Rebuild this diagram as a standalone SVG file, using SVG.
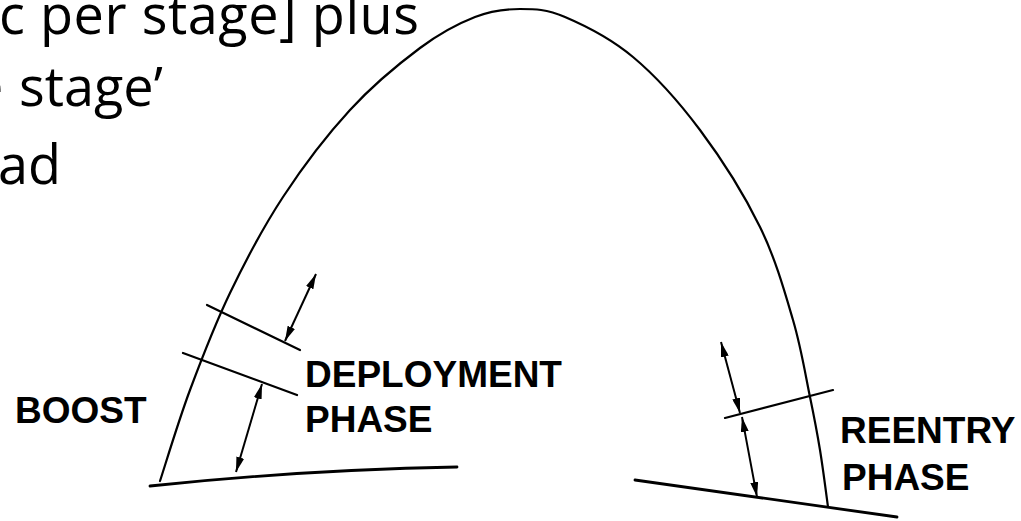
<svg xmlns="http://www.w3.org/2000/svg" width="1021" height="521" viewBox="0 0 1021 521">
<style>
.slide{font-family:"Open Sans","Noto Sans",sans-serif;font-size:54px;fill:#000}
.lbl{font-family:"Liberation Sans",Arial,sans-serif;font-weight:bold;font-size:37px;fill:#000}
.ln{fill:none;stroke:#000;stroke-width:2.2;stroke-linecap:round;stroke-linejoin:round}
.gnd{fill:none;stroke:#000;stroke-width:2.8;stroke-linecap:round}
.dim{fill:none;stroke:#000;stroke-width:2;marker-start:url(#ah);marker-end:url(#ah)}
</style>
<defs>
<marker id="ah" markerUnits="userSpaceOnUse" viewBox="0 0 15 8" markerWidth="15" markerHeight="8" refX="15" refY="4" orient="auto-start-reverse">
<path d="M0,0 L15,4 L0,8 z" fill="#000"/>
</marker>
</defs>
<rect width="1021" height="521" fill="#fff"/>
<g id="slide-text">
<text class="slide" x="-1" y="34" textLength="420" lengthAdjust="spacing">c per stage] plus</text>
<text class="slide" y="106"><tspan x="-27">e</tspan><tspan x="19">stage’</tspan></text>
<text class="slide" x="-2" y="184">ad</text>
</g>
<g id="trajectory">
<path class="ln" d="M160,481 C165,465.8 178.3,421.3 190,390 C201.7,358.7 214.5,325.2 230,293 C245.5,260.8 263,227.5 283,197 C303,166.5 327.2,134.8 350,110 C372.8,85.2 399.2,63.5 420,48 C440.8,32.5 458.3,23.5 475,17 C491.7,10.5 505,9 520,9 C535,9 546.2,9 565,17 C583.8,25 610.5,38.2 633,57 C655.5,75.8 678.8,101.7 700,130 C721.2,158.3 744.5,195.3 760,227 C775.5,258.7 784.7,291.7 793,320 C801.3,348.3 805.5,375.3 810,397 C814.5,418.7 817,431.7 820,450 C823,468.3 826.7,497.5 828,507"/>
</g>
<g id="ground">
<path class="gnd" d="M150,486 Q300,470 457,467"/>
<path class="gnd" d="M635,480 L897,517"/>
</g>
<g id="deployment-marks">
<path class="ln" d="M207,305 L300,350"/>
<path class="ln" d="M183,353 L297,395"/>
</g>
<g id="reentry-marks">
<path class="ln" d="M725,418 L833,390"/>
</g>
<g id="connectors">
<path class="dim" d="M285,341 L316,274"/>
<path class="dim" d="M262,384 L236,472"/>
<path class="dim" d="M740,413 L721,342"/>
<path class="dim" d="M742,417 L757,497"/>
</g>
<g id="label-boost"><text class="lbl" x="15" y="423">BOOST</text></g>
<g id="label-deployment"><text class="lbl" x="305" y="387">DEPLOYMENT</text><text class="lbl" x="305" y="432">PHASE</text></g>
<g id="label-reentry"><text class="lbl" x="840" y="443">REENTRY</text><text class="lbl" x="842" y="490">PHASE</text></g>
</svg>
